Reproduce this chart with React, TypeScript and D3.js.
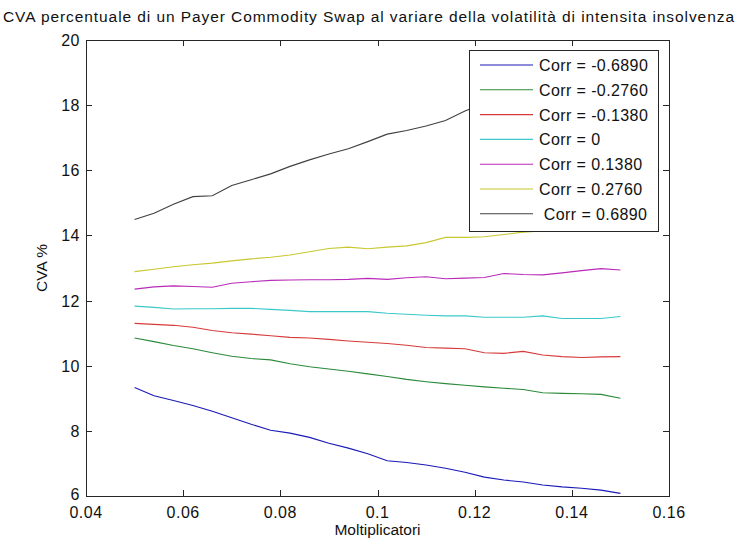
import React, { useEffect, useRef } from "react";
import * as d3 from "d3";

const TITLE = "CVA percentuale di un Payer Commodity Swap al variare della volatilità di intensita insolvenza";
const X_LABEL = "Moltiplicatori";
const Y_LABEL = "CVA %";

const xValues = [
  0.05, 0.054, 0.058, 0.062, 0.066, 0.07, 0.074, 0.078, 0.082, 0.086, 0.09, 0.094, 0.098,
  0.102, 0.106, 0.11, 0.114, 0.118, 0.122, 0.126, 0.13, 0.134, 0.138, 0.142, 0.146, 0.15,
];

const corrNeg0689 = [9.33, 9.08, 8.93, 8.78, 8.6, 8.4, 8.2, 8.02, 7.93, 7.8, 7.62, 7.47, 7.3, 7.08, 7.03, 6.95, 6.85, 6.73, 6.58, 6.49, 6.43, 6.34, 6.28, 6.24, 6.18, 6.08];
const corrNeg0276 = [10.85, 10.74, 10.62, 10.52, 10.4, 10.29, 10.22, 10.18, 10.06, 9.97, 9.9, 9.83, 9.75, 9.67, 9.58, 9.51, 9.45, 9.4, 9.35, 9.31, 9.27, 9.17, 9.15, 9.14, 9.12, 9.0];
const corrNeg0138 = [11.3, 11.27, 11.24, 11.18, 11.08, 11.01, 10.97, 10.92, 10.87, 10.85, 10.81, 10.76, 10.72, 10.68, 10.63, 10.56, 10.54, 10.52, 10.4, 10.38, 10.44, 10.33, 10.28, 10.25, 10.27, 10.28];
const corrZero = [11.83, 11.79, 11.74, 11.75, 11.75, 11.76, 11.76, 11.73, 11.7, 11.66, 11.66, 11.66, 11.66, 11.61, 11.58, 11.55, 11.53, 11.53, 11.49, 11.49, 11.49, 11.53, 11.45, 11.45, 11.45, 11.51];
const corrPos0138 = [12.35, 12.42, 12.45, 12.43, 12.41, 12.53, 12.58, 12.62, 12.63, 12.64, 12.64, 12.65, 12.68, 12.65, 12.7, 12.73, 12.67, 12.69, 12.71, 12.83, 12.8, 12.79, 12.85, 12.92, 12.98, 12.94];
const corrPos0276 = [12.89, 12.96, 13.04, 13.1, 13.15, 13.22, 13.28, 13.33, 13.4, 13.5, 13.6, 13.64, 13.59, 13.64, 13.68, 13.78, 13.94, 13.94, 13.96, 14.03, 14.1, 14.14, 14.2, 14.25, 14.3, 14.35];
const corrPos0689 = [14.49, 14.68, 14.96, 15.19, 15.22, 15.53, 15.71, 15.89, 16.12, 16.32, 16.5, 16.66, 16.88, 17.11, 17.22, 17.36, 17.53, 17.82, 18.05, 18.25, 18.45, 18.65, 18.85, 19.05, 19.25, 19.45];

const seriesLabels = [
  "Corr = -0.6890",
  "Corr = -0.2760",
  "Corr = -0.1380",
  "Corr = 0",
  "Corr = 0.1380",
  "Corr = 0.2760",
  " Corr = 0.6890",
];
const seriesValues = [corrNeg0689, corrNeg0276, corrNeg0138, corrZero, corrPos0138, corrPos0276, corrPos0689];
const seriesColors = ["#1a1ab8", "#2a8a3a", "#d83a3a", "#3cc8c8", "#b82ab8", "#c8c830", "#404040"];

const xTicks = [0.04, 0.06, 0.08, 0.1, 0.12, 0.14, 0.16];
const yTicks = [6, 8, 10, 12, 14, 16, 18, 20];

const W = 738;
const H = 547;
const M = { left: 86, right: 669, top: 40, bottom: 496 };
const FONT = "'Liberation Sans', Arial, Helvetica, sans-serif";

export default function App() {
  const ref = useRef<SVGSVGElement>(null);

  useEffect(() => {
    const svg = d3.select(ref.current);
    svg.selectAll("*").remove();

    const x = d3.scaleLinear().domain([0.04, 0.16]).range([M.left, M.right]);
    const y = d3.scaleLinear().domain([6, 20]).range([M.bottom, M.top]);
    const axisColor = "#262626";
    const tickLen = 6;

    svg.append("rect").attr("x", 0).attr("y", 0).attr("width", W).attr("height", H).attr("fill", "#fff");

    // title
    svg.append("text")
      .attr("x", 3).attr("y", 22)
      .attr("font-family", FONT).attr("font-size", 15.5)
      .attr("textLength", 731).attr("lengthAdjust", "spacing")
      .attr("fill", "#111")
      .text(TITLE);

    const clip = svg.append("defs").append("clipPath").attr("id", "plotclip");
    clip.append("rect").attr("x", M.left).attr("y", M.top).attr("width", M.right - M.left).attr("height", M.bottom - M.top);

    // lines
    const g = svg.append("g").attr("clip-path", "url(#plotclip)");
    seriesValues.forEach((vals, i) => {
      const line = d3.line<number>()
        .x((_, j) => x(xValues[j]))
        .y((d) => y(d));
      g.append("path")
        .attr("d", line(vals) || "")
        .attr("fill", "none")
        .attr("stroke", seriesColors[i])
        .attr("stroke-width", 1.1);
    });

    // box
    svg.append("rect")
      .attr("x", M.left + 0.5).attr("y", M.top + 0.5)
      .attr("width", M.right - M.left).attr("height", M.bottom - M.top)
      .attr("fill", "none").attr("stroke", axisColor).attr("stroke-width", 1);

    // ticks
    const tg = svg.append("g").attr("stroke", axisColor).attr("stroke-width", 1);
    xTicks.forEach((t) => {
      const px = Math.round(x(t)) + 0.5;
      tg.append("line").attr("x1", px).attr("x2", px).attr("y1", M.bottom).attr("y2", M.bottom - tickLen);
      tg.append("line").attr("x1", px).attr("x2", px).attr("y1", M.top).attr("y2", M.top + tickLen);
    });
    yTicks.forEach((t) => {
      const py = Math.round(y(t)) + 0.5;
      tg.append("line").attr("x1", M.left).attr("x2", M.left + tickLen).attr("y1", py).attr("y2", py);
      tg.append("line").attr("x1", M.right).attr("x2", M.right - tickLen).attr("y1", py).attr("y2", py);
    });

    const fmtX = (v: number) => String(+v.toFixed(2));
    xTicks.forEach((t) => {
      svg.append("text")
        .attr("x", x(t)).attr("y", M.bottom + 22)
        .attr("text-anchor", "middle")
        .attr("font-family", FONT).attr("font-size", 16).attr("letter-spacing", 0.5)
        .attr("fill", "#111")
        .text(fmtX(t));
    });
    yTicks.forEach((t) => {
      svg.append("text")
        .attr("x", M.left - 6).attr("y", y(t) + (t === 6 ? 4 : 6))
        .attr("text-anchor", "end")
        .attr("font-family", FONT).attr("font-size", 16).attr("letter-spacing", 0.5)
        .attr("fill", "#111")
        .text(String(t));
    });

    svg.append("text")
      .attr("x", (M.left + M.right) / 2).attr("y", 535)
      .attr("text-anchor", "middle")
      .attr("font-family", FONT).attr("font-size", 15.5)
      .attr("fill", "#111")
      .text(X_LABEL);

    svg.append("text")
      .attr("transform", `translate(47, ${(M.top + M.bottom) / 2}) rotate(-90)`)
      .attr("text-anchor", "middle")
      .attr("font-family", FONT).attr("font-size", 15.5)
      .attr("fill", "#111")
      .text(Y_LABEL);

    // legend
    const lg = svg.append("g");
    lg.append("rect")
      .attr("x", 469.5).attr("y", 50.5).attr("width", 189).attr("height", 181)
      .attr("fill", "#fff").attr("stroke", axisColor).attr("stroke-width", 1);
    seriesLabels.forEach((lab, i) => {
      const cy = 65 + i * 24.8;
      lg.append("line")
        .attr("x1", 480).attr("x2", 533).attr("y1", cy).attr("y2", cy)
        .attr("stroke", seriesColors[i]).attr("stroke-width", 1.1);
      lg.append("text")
        .attr("x", 539).attr("y", cy + 6)
        .attr("font-family", FONT).attr("font-size", 16).attr("letter-spacing", 0.4)
        .attr("fill", "#111")
        .attr("xml:space", "preserve")
        .style("white-space", "pre")
        .text(lab);
    });
  }, []);

  return (
    <svg
      ref={ref}
      width={W}
      height={H}
      style={{ position: "absolute", left: 0, top: 0, display: "block" }}
    />
  );
}
